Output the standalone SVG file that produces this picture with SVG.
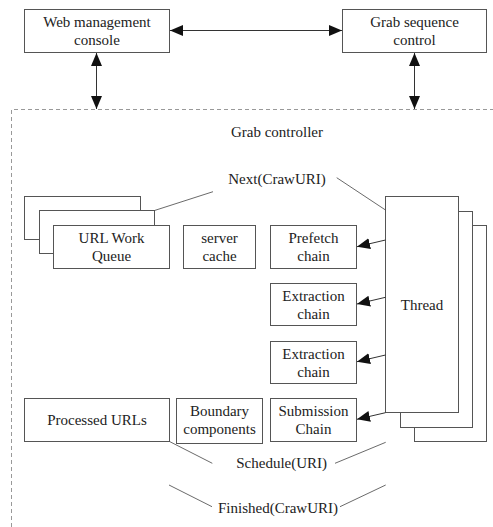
<svg xmlns="http://www.w3.org/2000/svg" width="493" height="527" viewBox="0 0 493 527" font-family="Liberation Serif, Times New Roman, Times, DejaVu Serif, serif">
<style>
  .box { fill: #fff; stroke: #555; stroke-width: 1; }
  .t { font-family: "Liberation Serif", "Times New Roman", Times, "DejaVu Serif", serif; font-size: 15px; fill: #222; text-anchor: middle; }
  .ln { stroke: #444; stroke-width: 0.8; fill: none; }
  .arr { stroke: #333; stroke-width: 1; fill: none; }
  .dash { stroke: #999; stroke-width: 1; fill: none; stroke-dasharray: 4 3; }
</style>
<defs>
  <marker id="ah" markerUnits="userSpaceOnUse" markerWidth="14" markerHeight="12" refX="13" refY="6" orient="auto-start-reverse" viewBox="0 0 14 12">
    <path d="M0,0.5 L13,6 L0,11.5 Z" fill="#111"/>
  </marker>
</defs>

<g id="container">
  <path class="dash" d="M11.5,527 L11.5,109.5 L493,109.5"/>
  <text class="t" x="277" y="136.5" font-family="Liberation Serif, serif">Grab controller</text>
</g>

<g id="web-console">
  <rect class="box" x="24.5" y="9.5" width="145" height="43"/>
  <text class="t" x="97" y="27">Web management</text>
  <text class="t" x="97" y="45">console</text>
</g>

<g id="grab-sequence">
  <rect class="box" x="342.5" y="9.5" width="144" height="43"/>
  <text class="t" x="414.5" y="27">Grab sequence</text>
  <text class="t" x="414.5" y="45">control</text>
</g>

<g id="url-queue">
  <rect class="box" x="24.5" y="196.5" width="116" height="43"/>
  <rect class="box" x="39.5" y="210.5" width="115" height="43"/>
  <rect class="box" x="53.5" y="225.5" width="116" height="43"/>
  <text class="t" x="111.5" y="243">URL Work</text>
  <text class="t" x="111.5" y="261">Queue</text>
</g>

<g id="server-cache">
  <rect class="box" x="183.5" y="225.5" width="72" height="43"/>
  <text class="t" x="219.5" y="243">server</text>
  <text class="t" x="219.5" y="261">cache</text>
</g>

<g id="prefetch-chain">
  <rect class="box" x="270.5" y="225.5" width="86" height="43"/>
  <text class="t" x="313.5" y="243">Prefetch</text>
  <text class="t" x="313.5" y="261">chain</text>
</g>

<g id="extraction-chain-1">
  <rect class="box" x="270.5" y="283.5" width="86" height="42"/>
  <text class="t" x="313.5" y="300.5">Extraction</text>
  <text class="t" x="313.5" y="318.5">chain</text>
</g>

<g id="extraction-chain-2">
  <rect class="box" x="270.5" y="341.5" width="86" height="42"/>
  <text class="t" x="313.5" y="358.5">Extraction</text>
  <text class="t" x="313.5" y="376.5">chain</text>
</g>

<g id="submission-chain">
  <rect class="box" x="270.5" y="398.5" width="86" height="43"/>
  <text class="t" x="313.5" y="416">Submission</text>
  <text class="t" x="313.5" y="434">Chain</text>
</g>

<g id="processed-urls">
  <rect class="box" x="24.5" y="398.5" width="145" height="43"/>
  <text class="t" x="97" y="425">Processed URLs</text>
</g>

<g id="boundary-components">
  <rect class="box" x="176.5" y="398.5" width="86" height="45"/>
  <text class="t" x="219.5" y="416">Boundary</text>
  <text class="t" x="219.5" y="434">components</text>
</g>

<g id="thread">
  <rect class="box" x="414.5" y="225.5" width="72" height="216"/>
  <rect class="box" x="400.5" y="211.5" width="72" height="216"/>
  <rect class="box" x="385.5" y="196.5" width="73" height="216"/>
  <text class="t" x="422" y="309.5">Thread</text>
</g>

<g id="connectors">
  <line class="arr" x1="170" y1="30.5" x2="342" y2="30.5" marker-start="url(#ah)" marker-end="url(#ah)"/>
  <line class="arr" x1="96.5" y1="53" x2="96.5" y2="109" marker-start="url(#ah)" marker-end="url(#ah)"/>
  <line class="arr" x1="414.5" y1="53" x2="414.5" y2="109" marker-start="url(#ah)" marker-end="url(#ah)"/>

  <line class="arr" x1="385.5" y1="240" x2="357" y2="246.7" marker-end="url(#ah)"/>
  <line class="arr" x1="385.5" y1="297.3" x2="357" y2="304" marker-end="url(#ah)"/>
  <line class="arr" x1="385.5" y1="355" x2="357" y2="361.7" marker-end="url(#ah)"/>
  <line class="arr" x1="385.5" y1="412.7" x2="357" y2="419.3" marker-end="url(#ah)"/>

  <line class="ln" x1="154.5" y1="210.5" x2="213" y2="191.7"/>
  <line class="ln" x1="336.7" y1="177.7" x2="385.5" y2="210"/>
  <line class="ln" x1="169.5" y1="441.5" x2="212.3" y2="463.3"/>
  <line class="ln" x1="335" y1="463.3" x2="385.7" y2="442.3"/>
  <line class="ln" x1="169" y1="485" x2="212" y2="506.7"/>
  <line class="ln" x1="340" y1="506.7" x2="385.7" y2="485"/>
  <text class="t" x="277" y="183.5">Next(CrawURI)</text>
  <text class="t" x="281.7" y="467.5">Schedule(URI)</text>
  <text class="t" x="278" y="513">Finished(CrawURI)</text>
</g>
</svg>
